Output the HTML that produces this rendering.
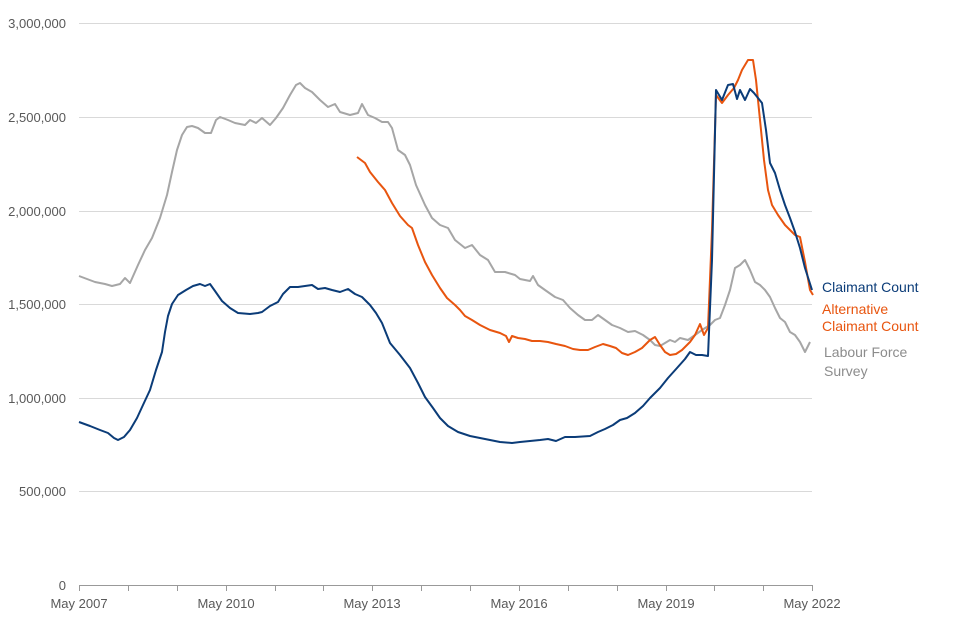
<!DOCTYPE html>
<html><head><meta charset="utf-8"><style>
html,body{margin:0;padding:0;background:#fff;}
svg{display:block;font-family:"Liberation Sans",Arial,sans-serif;}
</style></head><body>
<svg width="960" height="640" viewBox="0 0 960 640" xmlns="http://www.w3.org/2000/svg">
<g stroke="#d9d9d9" stroke-width="1">
<line x1="79" y1="23.5" x2="812" y2="23.5"/>
<line x1="79" y1="117.5" x2="812" y2="117.5"/>
<line x1="79" y1="211.5" x2="812" y2="211.5"/>
<line x1="79" y1="304.5" x2="812" y2="304.5"/>
<line x1="79" y1="398.5" x2="812" y2="398.5"/>
<line x1="79" y1="491.5" x2="812" y2="491.5"/>
</g>
<line x1="79" y1="585.5" x2="812" y2="585.5" stroke="#999" stroke-width="1"/>
<g stroke="#999" stroke-width="1">
<line x1="79.5" y1="585" x2="79.5" y2="591"/><line x1="128.5" y1="585" x2="128.5" y2="591"/><line x1="177.5" y1="585" x2="177.5" y2="591"/><line x1="226.5" y1="585" x2="226.5" y2="591"/><line x1="275.5" y1="585" x2="275.5" y2="591"/><line x1="323.5" y1="585" x2="323.5" y2="591"/><line x1="372.5" y1="585" x2="372.5" y2="591"/><line x1="421.5" y1="585" x2="421.5" y2="591"/><line x1="470.5" y1="585" x2="470.5" y2="591"/><line x1="519.5" y1="585" x2="519.5" y2="591"/><line x1="568.5" y1="585" x2="568.5" y2="591"/><line x1="617.5" y1="585" x2="617.5" y2="591"/><line x1="666.5" y1="585" x2="666.5" y2="591"/><line x1="714.5" y1="585" x2="714.5" y2="591"/><line x1="763.5" y1="585" x2="763.5" y2="591"/><line x1="812.5" y1="585" x2="812.5" y2="591"/>
</g>
<g fill="#595959" font-size="13" text-anchor="end">
<text x="66" y="28">3,000,000</text><text x="66" y="122">2,500,000</text><text x="66" y="216">2,000,000</text><text x="66" y="309">1,500,000</text><text x="66" y="403">1,000,000</text><text x="66" y="496">500,000</text><text x="66" y="590">0</text>
</g>
<g fill="#595959" font-size="13" text-anchor="middle">
<text x="79" y="608">May 2007</text><text x="226" y="608">May 2010</text><text x="372" y="608">May 2013</text><text x="519" y="608">May 2016</text><text x="666" y="608">May 2019</text><text x="812" y="608">May 2022</text>
</g>
<polyline fill="none" stroke="#a6a6a6" stroke-width="2" stroke-linejoin="round" points="79,276 95,282 105,284 112,286 120,284 125,278 130,283 138,265 145,250 152,238 160,218 167,195 172,172 177,150 182,135 187,127 192,126 198,128 205,133 211,133 216,120 220,117 228,120 235,123 245,125 250,120 256,123 262,118 270,125 276,118 283,108 290,95 296,85 300,83 305,88 312,92 320,100 328,107 335,104 340,112 350,115 358,113 362,104 368,115 375,118 382,122 388,122 392,128 398,150 405,155 410,165 416,185 425,205 432,218 440,225 448,228 455,240 465,248 472,245 480,255 488,260 495,272 505,272 515,275 520,279 530,281 533,276 538,285 545,290 555,297 563,300 570,308 578,315 585,320 592,320 598,315 605,320 612,325 620,328 628,332 635,331 643,335 650,340 655,345 660,346 665,343 670,340 675,342 680,338 688,340 695,335 702,330 710,325 715,320 720,318 725,305 730,290 735,268 740,265 745,260 750,270 755,282 760,285 765,290 770,297 775,308 780,318 785,322 790,332 795,335 800,342 805,352 810,342"/>
<polyline fill="none" stroke="#e8550f" stroke-width="2" stroke-linejoin="round" points="357,157 365,163 370,172 378,182 385,190 392,203 400,216 408,225 412,228 418,245 425,262 432,275 440,288 447,298 455,305 460,310 465,316 472,320 480,325 490,330 500,333 506,336 509,342 512,336 518,338 525,339 532,341 540,341 548,342 556,344 565,346 573,349 580,350 588,350 595,347 603,344 610,346 616,348 622,353 628,355 635,352 642,348 650,340 655,337 660,345 665,352 670,355 676,354 682,350 690,342 695,335 700,324 704,335 708,328 712,230 716,95 722,103 728,95 734,88 738,80 742,70 748,60 753,60 756,80 760,120 764,160 768,190 772,205 778,215 785,225 790,230 795,235 800,237 805,262 810,290 813,295"/>
<polyline fill="none" stroke="#0b3c78" stroke-width="2" stroke-linejoin="round" points="79,422 90,426 100,430 108,433 114,438 118,440 124,437 130,430 137,418 143,405 150,390 156,370 162,352 165,332 168,316 172,304 178,295 186,290 193,286 200,284 205,286 210,284 215,291 222,301 230,308 238,313 250,314 258,313 262,312 270,306 278,302 283,294 290,287 298,287 305,286 312,285 318,289 325,288 332,290 340,292 348,289 355,294 362,297 370,305 376,313 382,323 390,343 400,355 410,368 418,383 425,397 433,408 440,418 448,426 458,432 470,436 480,438 490,440 500,442 512,443 520,442 530,441 540,440 548,439 556,441 565,437 575,437 590,436 598,432 605,429 613,425 620,420 627,418 635,413 643,406 650,398 660,388 668,378 677,368 685,359 690,352 696,355 702,355 708,356 712,260 716,90 722,100 728,85 733,84 737,99 740,90 745,100 750,89 754,93 758,98 762,103 766,130 770,163 775,173 780,190 785,205 790,218 795,232 800,248 805,268 812,290"/>
<g font-size="14">
<text x="822" y="292" fill="#0b3c78">Claimant Count</text>
<text x="822" y="314" fill="#e8550f">Alternative</text>
<text x="822" y="331" fill="#e8550f">Claimant Count</text>
<text x="824" y="357" fill="#8c8c8c">Labour Force</text>
<text x="824" y="376" fill="#8c8c8c">Survey</text>
</g>
</svg>
</body></html>
